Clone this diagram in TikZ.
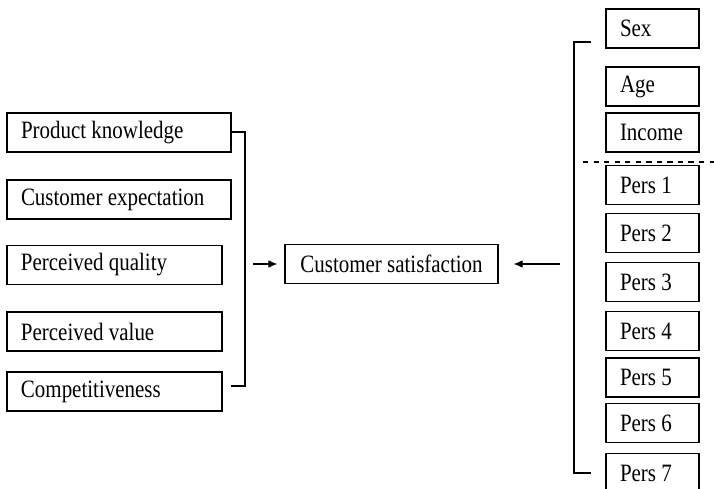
\documentclass[tikz,border=0pt]{standalone}
\usepackage{fontspec}
\setmainfont{Liberation Serif}[FakeStretch=0.84]
\usetikzlibrary{arrows.meta}

\tikzset{
  box/.style={draw, line width=0.6pt, minimum height=0.78cm, inner xsep=0.28cm, inner ysep=0.08cm, align=flush left, font=\fontsize{14.2}{16}\selectfont},
  wide/.style={box, text width=3.92cm},
  narrow/.style={box, text width=3.74cm},
  pers/.style={box, text width=1.30cm},
  brace/.style={line width=0.6pt},
  feed/.style={line width=0.6pt, -{Latex[length=1.8mm,width=1.5mm]}},
}

\begin{document}
\begin{tikzpicture}
\useasboundingbox (0,0) rectangle (14.28,9.78);

% left column
\node (PK) at (2.38,7.13) [wide]{Product knowledge};
\node (CE) at (2.38,5.79) [wide]{Customer expectation};
\node (PQ) at (2.29,4.48) [narrow]{Perceived quality};
\node (PV) at (2.29,3.15) [narrow]{Perceived value};
\node (CO) at (2.29,1.95) [narrow]{Competitiveness};

% centre
\node (CS) at (7.83,4.5) [box, minimum width=4.26cm]{Customer satisfaction};

% right column
\node (Sex) at (13.05,9.21) [pers]{Sex};
\node (Age) at (13.05,8.05) [pers]{Age};
\node (Inc) at (13.05,7.13) [pers]{Income};
\node (P-1) at (13.05,6.08) [pers]{Pers 1};
\node (P-2) at (13.05,5.12) [pers]{Pers 2};
\node (P-3) at (13.05,4.14) [pers]{Pers 3};
\node (P-4) at (13.05,3.16) [pers]{Pers 4};
\node (P-5) at (13.05,2.23) [pers]{Pers 5};
\node (P-6) at (13.05,1.32) [pers]{Pers 6};
\node (P-7) at (13.05,0.32) [pers]{Pers 7};

% brackets
\coordinate (L-top) at (4.62,7.14);
\coordinate (L-bot) at (4.62,2.06);
\draw [brace] (L-top) -| (4.9,2.06) -- (L-bot);

\coordinate (R-top) at (11.82,8.94);
\coordinate (R-bot) at (11.82,0.32);
\draw [brace] (R-top) -| (11.48,0.32) -- (R-bot);

% separator
\coordinate (S-1) at (11.66,6.54);
\coordinate (S-2) at (14.28,6.54);
\draw [brace, dashed] (S-1) -- (S-2);

% arrows
\coordinate (A-1) at (5.06,4.5);
\coordinate (A-2) at (11.2,4.5);
\draw [feed] (A-1) -- ([xshift=-0.14cm]CS.west);
\draw [feed] (A-2) -- ([xshift=0.3cm]CS.east);

\end{tikzpicture}
\end{document}
